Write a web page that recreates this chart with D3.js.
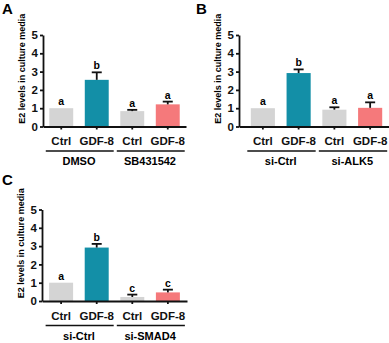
<!DOCTYPE html>
<html>
<head>
<meta charset="utf-8">
<script src="https://cdn.jsdelivr.net/npm/d3@7"></script>
<style>
  body { margin: 0; background: #fff; }
  svg { display: block; font-family: "Liberation Sans", Arial, sans-serif; font-weight: bold; }
</style>
</head>
<body>
<svg id="fig" width="389" height="343"></svg>
<script>
// shared
var categories = ["Ctrl", "GDF-8", "Ctrl", "GDF-8"];
var yTicks = [0, 1, 2, 3, 4, 5];
var barColors = ["#d4d4d4", "#138fa7", "#d4d4d4", "#f5797b"];
var yTitle = "E2 levels in culture media";

// panel A
var valuesA = [1.0, 2.55, 0.84, 1.21];
var errorsA = [0, 0.41, 0.07, 0.15];
var lettersA = ["a", "b", "a", "a"];
var groupsA = ["DMSO", "SB431542"];

// panel B
var valuesB = [1.0, 2.92, 0.92, 1.02];
var errorsB = [0, 0.2, 0.13, 0.3];
var lettersB = ["a", "b", "a", "a"];
var groupsB = ["si-Ctrl", "si-ALK5"];

// panel C
var valuesC = [1.0, 2.92, 0.22, 0.47];
var errorsC = [0, 0.2, 0.13, 0.15];
var lettersC = ["a", "b", "c", "c"];
var groupsC = ["si-Ctrl", "si-SMAD4"];

var svg = d3.select("#fig");

function drawPanel(p) {
    var g = svg.append("g");

    var rows = p.values.map(function (v, i) {
        return { i: i, v: v, e: p.errors[i], letter: p.letters[i] };
    });

    var x = d3.scaleBand()
        .domain(d3.range(categories.length))
        .range([p.axisX, p.right])
        .paddingInner(0.326)
        .paddingOuter(p.po);

    var y = d3.scaleLinear().domain([0, 5]).range([p.yBase, p.yTop]);
    var cx = function (d) { return x(d.i) + x.bandwidth() / 2; };

    // bars
    g.selectAll(".bar").data(rows).enter().append("rect")
        .attr("x", function (d) { return x(d.i); })
        .attr("y", function (d) { return y(d.v); })
        .attr("width", x.bandwidth())
        .attr("height", function (d) { return y(0) - y(d.v); })
        .attr("fill", function (d) { return barColors[d.i]; });

    // error bars (upper only)
    var withErr = rows.filter(function (d) { return d.e > 0; });
    g.selectAll(".err").data(withErr).enter().append("line")
        .attr("x1", cx).attr("x2", cx)
        .attr("y1", function (d) { return y(d.v); })
        .attr("y2", function (d) { return y(d.v + d.e); })
        .attr("stroke", "#111").attr("stroke-width", 1.8);
    g.selectAll(".cap").data(withErr).enter().append("line")
        .attr("x1", function (d) { return cx(d) - 5; })
        .attr("x2", function (d) { return cx(d) + 5; })
        .attr("y1", function (d) { return y(d.v + d.e); })
        .attr("y2", function (d) { return y(d.v + d.e); })
        .attr("stroke", "#111").attr("stroke-width", 1.8);

    // significance letters
    g.selectAll(".sig").data(rows).enter().append("text")
        .attr("x", cx)
        .attr("y", function (d) { return y(d.v + d.e) - 3; })
        .attr("text-anchor", "middle")
        .attr("font-size", 10.5)
        .text(function (d) { return d.letter; });

    // y axis
    var ya = g.append("g")
        .attr("transform", "translate(" + p.axisX + ",0)")
        .call(d3.axisLeft(y).tickValues(yTicks).tickFormat(d3.format("d"))
            .tickSize(3).tickSizeOuter(0).tickPadding(2));
    ya.selectAll("text").attr("font-size", 11.5).attr("font-family", null).attr("fill", "#111");

    // x axis
    var xa = g.append("g")
        .attr("transform", "translate(0," + p.yBase + ")")
        .call(d3.axisBottom(x).tickSize(3).tickSizeOuter(0).tickPadding(7.5)
            .tickFormat(function (i) { return categories[i]; }));
    xa.selectAll("text").attr("font-size", 11.5).attr("font-family", null).attr("fill", "#111");

    g.selectAll(".domain, .tick line").attr("stroke", "#111").attr("stroke-width", 1.8);

    // group lines and labels
    p.groups.forEach(function (name, k) {
        var x0 = x(2 * k) - 3.5, x1 = x(2 * k + 1) + x.bandwidth() + 5;
        g.append("line")
            .attr("x1", x0).attr("x2", x1)
            .attr("y1", p.yBase + 24.5).attr("y2", p.yBase + 24.5)
            .attr("stroke", "#111").attr("stroke-width", 1.6);
        g.append("text")
            .attr("x", (x(2 * k) + x(2 * k + 1) + x.bandwidth()) / 2)
            .attr("y", p.yBase + 38.5)
            .attr("text-anchor", "middle")
            .attr("font-size", 11)
            .text(name);
    });

    // y title
    g.append("text")
        .attr("transform", "translate(" + (p.axisX - 21) + "," + ((p.yTop + p.yBase) / 2 - 12) + ") rotate(-90)")
        .attr("text-anchor", "middle")
        .attr("dominant-baseline", "central")
        .attr("font-size", 9)
        .text(yTitle);

    // panel letter
    g.append("text")
        .attr("x", p.letterX).attr("y", p.letterY)
        .attr("font-size", 15)
        .text(p.letter);
}

drawPanel({ letter: "A", letterX: 2, letterY: 14, axisX: 43, right: 186, po: 0.177,
    yTop: 35, yBase: 126.5, values: valuesA, errors: errorsA, letters: lettersA, groups: groupsA });
drawPanel({ letter: "B", letterX: 196, letterY: 14, axisX: 239, right: 394, po: 0.33,
    yTop: 35, yBase: 126.5, values: valuesB, errors: errorsB, letters: lettersB, groups: groupsB });
drawPanel({ letter: "C", letterX: 2, letterY: 185, axisX: 42, right: 187, po: 0.2,
    yTop: 209.5, yBase: 301, values: valuesC, errors: errorsC, letters: lettersC, groups: groupsC });
</script>
</body>
</html>
